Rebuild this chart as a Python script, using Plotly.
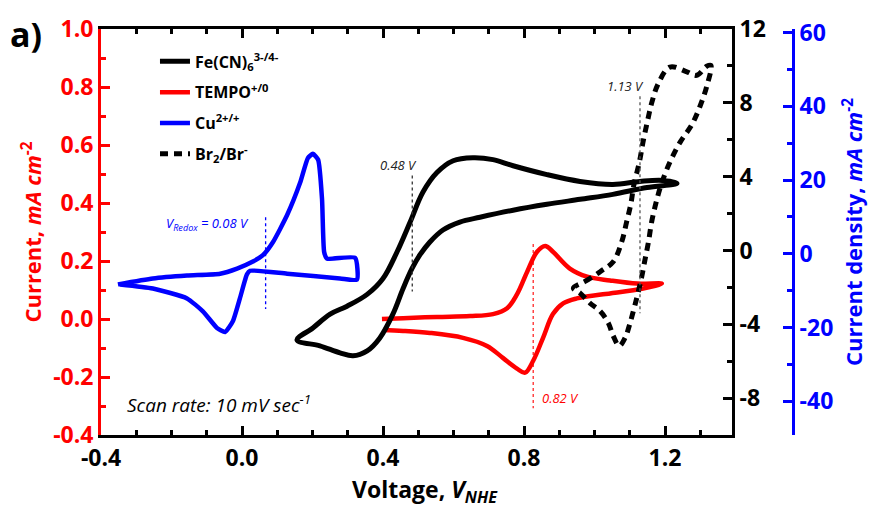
import plotly.graph_objects as go

# ---------------- data ----------------
# Cu2+/+ : blue axis (current density, mA cm^-2)
cu_v = [-0.352, -0.253, -0.156, -0.062, -0.014, 0.031, 0.060, 0.088, 0.128, 0.165,
        0.187, 0.201, 0.216, 0.227, 0.233, 0.241, 0.321, 0.326, 0.278, 0.128,
        0.023, 0.014, -0.006, -0.026, -0.048, -0.071, -0.111, -0.156, -0.253, -0.346]
cu_j = [-8.3, -6.7, -5.9, -5.4, -4.0, -2.1, -0.3, 3.2, 10.5, 19.3,
        26.0, 27.1, 25.5, 14.8, 0.5, -1.3, -1.1, -7.0, -6.7, -5.4,
        -4.6, -5.6, -12.1, -18.3, -21.2, -20.1, -15.6, -12.1, -9.4, -8.3]

# Fe(CN)6 3-/4- : black right axis
fe_v = [0.156, 0.201, 0.250, 0.298, 0.355, 0.400, 0.440, 0.477, 0.513, 0.553,
        0.599, 0.655, 0.712, 0.769, 0.865, 0.959, 1.052, 1.129, 1.194, 1.234,
        1.149, 1.052, 0.959, 0.865, 0.769, 0.675, 0.618, 0.570, 0.533, 0.505,
        0.482, 0.457, 0.428, 0.391, 0.355, 0.315, 0.278, 0.221, 0.156]
fe_j = [-4.85, -4.20, -3.45, -3.02, -2.38, -1.52, -0.07, 1.54, 3.15, 4.22,
        4.86, 5.02, 4.92, 4.59, 4.11, 3.74, 3.58, 3.74, 3.79, 3.63,
        3.41, 3.04, 2.77, 2.50, 2.18, 1.80, 1.54, 1.11, 0.46, -0.23,
        -0.99, -2.06, -3.45, -4.74, -5.44, -5.71, -5.55, -5.17, -4.85]

# TEMPO +/0 : red left axis (current, mA cm^-2)
tempo_v = [0.397, 0.457, 0.553, 0.647, 0.712, 0.752, 0.780, 0.809, 0.837, 0.860,
           0.882, 0.930, 0.979, 1.044, 1.121, 1.191, 1.138, 1.024, 0.950, 0.911,
           0.882, 0.854, 0.826, 0.803, 0.780, 0.740, 0.695, 0.627, 0.533, 0.457, 0.400]
tempo_i = [0.000, 0.003, 0.007, 0.010, 0.017, 0.037, 0.085, 0.163, 0.232, 0.252,
           0.232, 0.174, 0.146, 0.133, 0.122, 0.122, 0.105, 0.085, 0.071, 0.054,
           0.017, -0.065, -0.144, -0.185, -0.171, -0.134, -0.093, -0.065, -0.048, -0.041, -0.038]

# Br2/Br- : black right axis
br_v = [0.940, 0.973, 1.016, 1.053, 1.077, 1.091, 1.103, 1.112, 1.127, 1.138,
        1.150, 1.162, 1.181, 1.214, 1.262, 1.290, 1.318, 1.330, 1.318, 1.299,
        1.276, 1.243, 1.214, 1.191, 1.176, 1.162, 1.153, 1.143, 1.131, 1.115,
        1.101, 1.087, 1.070, 1.053, 1.039, 1.016, 0.987, 0.959, 0.940]
br_j = [-2.04, -1.68, -1.15, -0.61, 0.46, 1.54, 2.52, 3.59, 4.76, 5.92,
        6.99, 7.98, 9.05, 9.94, 9.68, 9.49, 9.98, 10.03, 8.87, 7.80,
        6.81, 5.87, 4.79, 3.68, 2.70, 1.54, 0.46, -0.52, -1.68, -2.93,
        -3.92, -4.72, -5.17, -4.63, -3.92, -3.29, -2.85, -2.31, -2.04]

# redox-potential marker lines
cu_mark_v, cu_mark_j = [0.067, 0.067], [9.9, -15.0]
fe_mark_v, fe_mark_j = [0.483, 0.483], [4.06, -2.22]
tempo_mark_v, tempo_mark_i = [0.826, 0.826], [0.259, -0.308]
br_mark_v, br_mark_j = [1.129, 1.129], [8.35, -3.40]

# tick labels
x_ticks = [-0.4, 0.0, 0.4, 0.8, 1.2]
x_labels = ["-0.4", "0.0", "0.4", "0.8", "1.2"]
y1_ticks = [-0.4, -0.2, 0.0, 0.2, 0.4, 0.6, 0.8, 1.0]
y1_labels = ["-0.4", "-0.2", "0.0", "0.2", "0.4", "0.6", "0.8", "1.0"]
y2_ticks = [-8, -4, 0, 4, 8, 12]
y2_labels = ["-8", "-4", "0", "4", "8", "12"]
y3_ticks = [-40, -20, 0, 20, 40, 60]
y3_labels = ["-40", "-20", "0", "20", "40", "60"]

FONT = "Open Sans"
RED = "#ff0000"
BLUE = "#0000ff"

fig = go.Figure()
fig.add_trace(go.Scatter(x=fe_v, y=fe_j, yaxis="y2", mode="lines", line_shape="spline",
                         line=dict(color="black", width=5),
                         name="Fe(CN)<sub>6</sub><sup>3-/4-</sup>", legendgroup="a"))
fig.add_trace(go.Scatter(x=tempo_v, y=tempo_i, yaxis="y", mode="lines", line_shape="spline",
                         line=dict(color=RED, width=4.5),
                         name="TEMPO<sup>+/0</sup>", legendgroup="b"))
fig.add_trace(go.Scatter(x=cu_v, y=cu_j, yaxis="y3", mode="lines", line_shape="spline",
                         line=dict(color=BLUE, width=4.5, smoothing=0.5),
                         name="Cu<sup>2+/+</sup>", legendgroup="c"))
fig.add_trace(go.Scatter(x=br_v, y=br_j, yaxis="y2", mode="lines", line_shape="spline",
                         line=dict(color="black", width=5, dash="8px,6px"),
                         name="Br<sub>2</sub>/Br<sup>-</sup>", legendgroup="d"))

# marker lines
fig.add_trace(go.Scatter(x=cu_mark_v, y=cu_mark_j, yaxis="y3", mode="lines", showlegend=False,
                         line=dict(color=BLUE, width=1.3, dash="dot")))
fig.add_trace(go.Scatter(x=fe_mark_v, y=fe_mark_j, yaxis="y2", mode="lines", showlegend=False,
                         line=dict(color="#333333", width=1.3, dash="dot")))
fig.add_trace(go.Scatter(x=tempo_mark_v, y=tempo_mark_i, yaxis="y", mode="lines", showlegend=False,
                         line=dict(color=RED, width=1.1, dash="dot")))
fig.add_trace(go.Scatter(x=br_mark_v, y=br_mark_j, yaxis="y2", mode="lines", showlegend=False,
                         line=dict(color="#555555", width=1.3, dash="dot")))

tickfont = dict(family=FONT, size=23, weight="bold")
XDOM = 631 / 692

fig.update_layout(
    width=878, height=508,
    margin=dict(l=101, r=85, t=25, b=73),
    paper_bgcolor="white", plot_bgcolor="white",
    font=dict(family=FONT, color="black"),
    showlegend=True,
    legend=dict(x=0.078, y=0.962, xanchor="left", yanchor="top",
                bgcolor="rgba(0,0,0,0)", borderwidth=0,
                font=dict(family=FONT, size=16, color="black", weight="bold"),
                tracegroupgap=7, traceorder="grouped"),
    xaxis=dict(domain=[0, XDOM], range=[-0.4, 1.39], tickmode="array",
               tickvals=x_ticks, ticktext=x_labels,
               ticks="inside", ticklen=9, tickwidth=2.5, tickcolor="black",
               showline=True, linewidth=3, linecolor="black", mirror="ticks",
               showgrid=False, zeroline=False, tickfont=dict(tickfont, color="black"),
               minor=dict(tickmode="linear", tick0=-0.4, dtick=0.1, ticks="inside",
                          ticklen=5, tickwidth=2.5, tickcolor="black")),
    yaxis=dict(range=[-0.4, 1.0], tickmode="array", tickvals=y1_ticks, ticktext=y1_labels,
               ticks="inside", ticklen=9, tickwidth=2.5, tickcolor=RED,
               showline=True, linewidth=3, linecolor=RED,
               showgrid=False, zeroline=False, tickfont=dict(tickfont, color=RED),
               title=dict(text="Current, <i>mA cm</i><sup>-2</sup>", standoff=6,
                          font=dict(family=FONT, size=22, color=RED, weight="bold")),
               minor=dict(tickmode="linear", tick0=0, dtick=0.1, ticks="inside",
                          ticklen=5, tickwidth=2.5, tickcolor=RED)),
    yaxis2=dict(overlaying="y", side="right", anchor="x", range=[-10, 12],
                tickmode="array", tickvals=y2_ticks, ticktext=y2_labels,
                ticks="inside", ticklen=9, tickwidth=2.5, tickcolor="black",
                showline=True, linewidth=3, linecolor="black",
                showgrid=False, zeroline=False, tickfont=dict(tickfont, color="black"),
                minor=dict(tickmode="linear", tick0=0, dtick=2, ticks="inside",
                           ticklen=5, tickwidth=2.5, tickcolor="black")),
    yaxis3=dict(overlaying="y", side="right", anchor="free", position=1.0,
                range=[-49.14, 60.95],
                tickmode="array", tickvals=y3_ticks, ticktext=y3_labels,
                ticks="inside", ticklen=9, tickwidth=2.5, tickcolor=BLUE,
                showline=True, linewidth=3, linecolor=BLUE,
                showgrid=False, zeroline=False, tickfont=dict(tickfont, color=BLUE),
                title=dict(text="Current density, <i>mA cm</i><sup>-2</sup>", standoff=14,
                           font=dict(family=FONT, size=22, color=BLUE, weight="bold")),
                minor=dict(tickmode="linear", tick0=0, dtick=10, ticks="inside",
                           ticklen=5, tickwidth=2.5, tickcolor=BLUE)),
)

ann_font = dict(family=FONT, size=13, style="italic")
fig.add_annotation(x=-0.0965, y=0.327, xref="x", yref="y", showarrow=False,
                   text="V<sub>Redox</sub> = 0.08 V", font=dict(ann_font, color=BLUE))
fig.add_annotation(x=0.445, y=0.532, xref="x", yref="y", showarrow=False,
                   text="0.48 V", font=dict(ann_font, color="#222222"))
fig.add_annotation(x=0.845, y=-0.274, xref="x", yref="y", showarrow=False, xanchor="left",
                   text="0.82 V", font=dict(ann_font, color=RED))
fig.add_annotation(x=1.089, y=0.805, xref="x", yref="y", showarrow=False,
                   text="1.13 V", font=dict(ann_font, color="#222222"))
fig.add_annotation(x=24 / 692, y=31 / 410, xref="paper", yref="paper", showarrow=False,
                   xanchor="left", yanchor="middle",
                   text="Scan rate: 10 mV sec<sup>-1</sup>",
                   font=dict(family=FONT, size=19, style="italic", color="black"))
fig.add_annotation(x=-75 / 692, y=405 / 410, xref="paper", yref="paper", showarrow=False,
                   xanchor="center", yanchor="middle",
                   text="a)", font=dict(family=FONT, size=34, weight="bold", color="black"))
fig.add_annotation(x=324 / 692, y=-36 / 410, xref="paper", yref="paper", showarrow=False,
                   xanchor="center", yanchor="top",
                   text="Voltage, <i>V<sub>NHE</sub></i>",
                   font=dict(family=FONT, size=23, weight="bold", color="black"))

fig.write_html("out.html")
